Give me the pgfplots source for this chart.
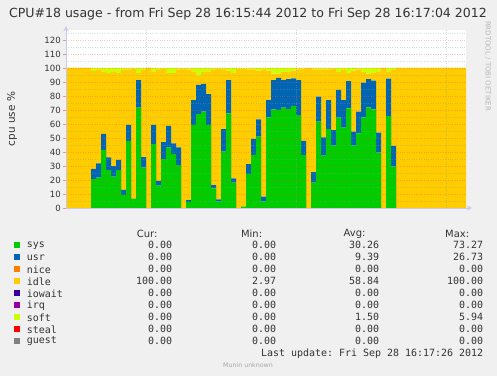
\documentclass[border=0pt]{standalone}
\usepackage{pgfplots}
\usepackage{pgfplotstable}
\pgfplotsset{compat=1.18}
\usetikzlibrary{arrows.meta}
\usepackage{fontspec}
\setmainfont{DejaVu Sans}
\newfontfamily\mono{DejaVu Sans Mono}
\definecolor{bgc}{HTML}{F0F0F0}
\definecolor{sysc}{HTML}{00CC00}
\definecolor{usrc}{HTML}{0066B3}
\definecolor{nicec}{HTML}{FF8000}
\definecolor{idlec}{HTML}{FFCC00}
\definecolor{iowaitc}{HTML}{330099}
\definecolor{irqc}{HTML}{990099}
\definecolor{softc}{HTML}{CCFF00}
\definecolor{stealc}{HTML}{FF0000}
\definecolor{guestc}{HTML}{808080}
\definecolor{axc}{HTML}{C8C8EC}
\definecolor{txt}{HTML}{333333}

\pgfplotstableread{
t sys usr idle soft
0 0 0 100 0
1 0 0 100 0
2 0 0 100 0
3 0 0 100 0
4 0 0 100 0
5 20.7 7.2 70.1 2.0
6 21.7 10.2 67.1 1.0
7 41.4 11.5 44.7 2.4
8 27.1 9.1 60.3 3.5
9 22.4 7.6 67.6 2.4
10 27.1 7.2 62.1 3.6
11 9.3 3.6 86.1 1.0
12 47.9 11.4 39.7 1.0
13 6.7 0 92.8 0.5
14 71.7 19.7 5.0 3.6
15 28.8 7.6 62.6 1.0
16 0 0 100 0
17 45.7 13.6 38.3 2.4
18 15.9 3.4 79.7 1.0
19 35.0 12.1 52.4 0.5
20 43.1 15.5 37.8 3.6
21 38.6 7.6 50.2 3.6
22 30.7 12.6 55.7 1.0
23 0 0 99.5 0.5
24 4.3 1.4 93.3 1.0
25 59.3 17.8 20.5 2.4
26 67.1 20.8 6.9 5.2
27 68.8 19.8 8.5 2.9
28 59.3 22.1 16.2 2.4
29 14.0 2.4 82.6 1.0
30 4.5 1.7 93.3 0.5
31 40.2 16.2 42.6 1.0
32 67.6 23.8 6.7 1.9
33 18.1 3.1 75.2 3.6
34 0 0 99.5 0.5
35 1.0 0 98.5 0.5
36 24.3 7.1 67.6 1.0
37 37.9 11.4 49.7 1.0
38 50.9 12.4 34.8 1.9
39 4.5 3.6 90.9 1.0
40 64.8 12.3 21.0 1.9
41 70.5 20.9 4.6 4.0
42 70.0 23.0 3.0 4.0
43 71.7 19.7 5.7 2.9
44 70.7 21.4 5.0 2.9
45 72.9 19.7 5.5 1.9
46 66.4 25.0 7.6 1.0
47 37.9 10.0 51.6 0.5
48 0 0 100 0
49 18.1 7.6 73.3 1.0
50 61.7 17.8 19.5 1.0
51 37.4 13.1 48.5 1.0
52 56.4 20.7 21.9 1.0
53 44.5 11.2 43.8 0.5
54 64.5 19.8 12.8 2.9
55 57.4 19.7 21.9 1.0
56 71.2 19.5 5.7 3.6
57 44.5 10.0 43.6 1.9
58 53.3 15.5 30.2 1.0
59 64.8 24.7 7.6 2.9
60 71.9 20.2 3.9 4.0
61 70.5 20.4 5.5 3.6
62 39.5 14.3 43.8 2.4
63 0 0 100 0
64 65.7 26.7 5.2 2.4
65 29.5 14.8 54.3 1.4
66 0 0 100 0
67 0 0 100 0
68 0 0 100 0
69 0 0 100 0
70 0 0 100 0
71 0 0 100 0
72 0 0 100 0
73 0 0 100 0
74 0 0 100 0
75 0 0 100 0
76 0 0 100 0
77 0 0 100 0
78 0 0 100 0
79 0 0 100 0
80 0 0 100 0
}\cpudata

\newcommand\lf{\mono\fontsize{10}{12}\selectfont}

\begin{document}
\begin{tikzpicture}[x=1bp,y=1bp]
\fill[bgc] (0,0) rectangle (497,376);
\path[use as bounding box] (0,0) rectangle (497,376);
\begin{axis}[
  at={(66bp,168bp)}, anchor=south west,
  scale only axis, width=400bp, height=177.8bp,
  xmin=0, xmax=80, ymin=0, ymax=127,
  stack plots=y,
  axis on top,
  axis background/.style={fill=white},
  axis x line=bottom, axis y line=left,
  axis line style={draw=axc, line width=0.8bp},
  x axis line style={-{Stealth[length=5bp,width=5bp]}, shorten >=-6bp},
  y axis line style={-{Stealth[length=5bp,width=5bp]}, shorten >=-4bp},
  ytick={0,10,...,120},
  minor ytick={5,15,...,125},
  xtick={16,46,76},
  xticklabels={},
  xtick style={draw=none},
  ytick style={draw=red!45, line width=0.5bp},
  minor tick length=0pt,
  major tick length=3bp,
  tick align=outside,
  ymajorgrids, yminorgrids, xmajorgrids,
  major y grid style={draw=red!70, draw opacity=0.35, dash pattern=on 0.8bp off 1.6bp, line width=0.6bp},
  minor y grid style={draw=black!40, draw opacity=0.35, dash pattern=on 0.8bp off 1.6bp, line width=0.6bp},
  major x grid style={draw=black!40, draw opacity=0.4, dash pattern=on 0.8bp off 1.6bp, line width=0.6bp},
  /pgf/number format/assume math mode=true,
  yticklabel style={font=\fontsize{8.6}{10}\selectfont, text=txt, inner sep=2bp},
]
\addplot[fill=sysc, draw=none, const plot] table[x=t,y=sys]{\cpudata} \closedcycle;
\addplot[fill=usrc, draw=none, const plot] table[x=t,y=usr]{\cpudata} \closedcycle;
\addplot[fill=idlec, draw=none, const plot] table[x=t,y=idle]{\cpudata} \closedcycle;
\addplot[fill=softc, draw=none, const plot] table[x=t,y=soft]{\cpudata} \closedcycle;
\end{axis}

% title and side texts
\node[text=txt, font=\fontsize{12.6}{14}\selectfont] at (248,362) {CPU\#18 usage - from Fri Sep 28 16:15:44 2012 to Fri Sep 28 16:17:04 2012};
\node[text=txt, rotate=90, font=\fontsize{10.5}{12}\selectfont] at (12,257) {cpu use \%};
\node[text=black!28, rotate=-90, font=\fontsize{7}{8}\selectfont] at (488,310) {RRDTOOL / TOBI OETIKER};

% legend header
\begin{scope}[every node/.style={text=txt, inner sep=0pt, font=\fontsize{10}{12}\selectfont, anchor=east}]
\node at (157.7,142) {Cur:};
\node at (262.3,142) {Min:};
\node at (365.7,142) {Avg:};
\node at (469.3,142) {Max:};
\end{scope}

\foreach \n/\c/\cu/\mi/\av/\ma [count=\k from 0] in {
  sys/sysc/0.00/0.00/30.26/73.27,
  usr/usrc/0.00/0.00/9.39/26.73,
  nice/nicec/0.00/0.00/0.00/0.00,
  idle/idlec/100.00/2.97/58.84/100.00,
  iowait/iowaitc/0.00/0.00/0.00/0.00,
  irq/irqc/0.00/0.00/0.00/0.00,
  soft/softc/0.00/0.00/1.50/5.94,
  steal/stealc/0.00/0.00/0.00/0.00,
  guest/guestc/0.00/0.00/0.00/0.00}{
  \pgfmathsetmacro\yy{130.7-12*\k}
  \fill[\c] (14,\yy-2.2) rectangle (19.5,\yy+3.2);
  \node[anchor=west, inner sep=0pt, text=txt, font=\lf] at (26.7,\yy) {\n};
  \node[anchor=east, inner sep=0pt, text=txt, font=\lf] at (172.3,\yy) {\cu};
  \node[anchor=east, inner sep=0pt, text=txt, font=\lf] at (276.3,\yy) {\mi};
  \node[anchor=east, inner sep=0pt, text=txt, font=\lf] at (379.3,\yy) {\av};
  \node[anchor=east, inner sep=0pt, text=txt, font=\lf] at (483.3,\yy) {\ma};
}
\node[anchor=east, inner sep=0pt, text=txt, font=\lf] at (483.3,22.3) {Last update:\ Fri Sep 28 16:17:26 2012};
\node[inner sep=0pt, text=black!35, font=\fontsize{6.3}{8}\selectfont] at (248,10.7) {Munin unknown};
\end{tikzpicture}
\end{document}
